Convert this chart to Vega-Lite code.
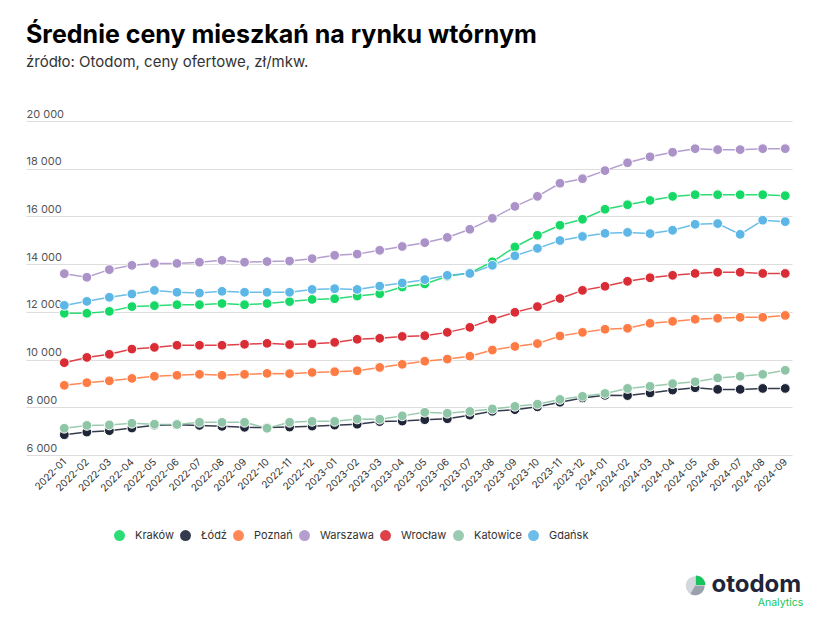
{
  "$schema": "https://vega.github.io/schema/vega-lite/v6.json",
  "autosize": {"type": "none"},
  "width": 766,
  "height": 334,
  "padding": {"left": 26, "top": 121, "right": 40, "bottom": 166},
  "background": "white",
  "config": {"view": {"stroke": null}, "font": "Inter"},
  "title": {
    "text": "Średnie ceny mieszkań na rynku wtórnym",
    "subtitle": "źródło: Otodom, ceny ofertowe, zł/mkw.",
    "anchor": "start",
    "frame": "group",
    "font": "Inter",
    "fontSize": 25,
    "fontWeight": 700,
    "color": "#000000",
    "subtitleFont": "Inter",
    "subtitleFontSize": 15,
    "subtitleColor": "#333333",
    "subtitlePadding": 7,
    "offset": 38
  },
  "data": {"values": [
    {"m":"2022-01","c":"Kraków","v":11940},{"m":"2022-02","c":"Kraków","v":11940},{"m":"2022-03","c":"Kraków","v":12020},{"m":"2022-04","c":"Kraków","v":12220},{"m":"2022-05","c":"Kraków","v":12260},{"m":"2022-06","c":"Kraków","v":12300},{"m":"2022-07","c":"Kraków","v":12300},{"m":"2022-08","c":"Kraków","v":12350},{"m":"2022-09","c":"Kraków","v":12300},{"m":"2022-10","c":"Kraków","v":12350},{"m":"2022-11","c":"Kraków","v":12430},{"m":"2022-12","c":"Kraków","v":12520},{"m":"2023-01","c":"Kraków","v":12550},{"m":"2023-02","c":"Kraków","v":12660},{"m":"2023-03","c":"Kraków","v":12760},{"m":"2023-04","c":"Kraków","v":13040},{"m":"2023-05","c":"Kraków","v":13170},{"m":"2023-06","c":"Kraków","v":13490},{"m":"2023-07","c":"Kraków","v":13630},{"m":"2023-08","c":"Kraków","v":14100},{"m":"2023-09","c":"Kraków","v":14720},{"m":"2023-10","c":"Kraków","v":15210},{"m":"2023-11","c":"Kraków","v":15630},{"m":"2023-12","c":"Kraków","v":15880},{"m":"2024-01","c":"Kraków","v":16300},{"m":"2024-02","c":"Kraków","v":16490},{"m":"2024-03","c":"Kraków","v":16670},{"m":"2024-04","c":"Kraków","v":16840},{"m":"2024-05","c":"Kraków","v":16910},{"m":"2024-06","c":"Kraków","v":16910},{"m":"2024-07","c":"Kraków","v":16910},{"m":"2024-08","c":"Kraków","v":16910},{"m":"2024-09","c":"Kraków","v":16870},
    {"m":"2022-01","c":"Łódź","v":6850},{"m":"2022-02","c":"Łódź","v":6960},{"m":"2022-03","c":"Łódź","v":7020},{"m":"2022-04","c":"Łódź","v":7130},{"m":"2022-05","c":"Łódź","v":7250},{"m":"2022-06","c":"Łódź","v":7270},{"m":"2022-07","c":"Łódź","v":7240},{"m":"2022-08","c":"Łódź","v":7200},{"m":"2022-09","c":"Łódź","v":7160},{"m":"2022-10","c":"Łódź","v":7150},{"m":"2022-11","c":"Łódź","v":7170},{"m":"2022-12","c":"Łódź","v":7210},{"m":"2023-01","c":"Łódź","v":7250},{"m":"2023-02","c":"Łódź","v":7290},{"m":"2023-03","c":"Łódź","v":7400},{"m":"2023-04","c":"Łódź","v":7420},{"m":"2023-05","c":"Łódź","v":7480},{"m":"2023-06","c":"Łódź","v":7520},{"m":"2023-07","c":"Łódź","v":7670},{"m":"2023-08","c":"Łódź","v":7830},{"m":"2023-09","c":"Łódź","v":7900},{"m":"2023-10","c":"Łódź","v":8020},{"m":"2023-11","c":"Łódź","v":8210},{"m":"2023-12","c":"Łódź","v":8390},{"m":"2024-01","c":"Łódź","v":8500},{"m":"2024-02","c":"Łódź","v":8490},{"m":"2024-03","c":"Łódź","v":8600},{"m":"2024-04","c":"Łódź","v":8720},{"m":"2024-05","c":"Łódź","v":8820},{"m":"2024-06","c":"Łódź","v":8750},{"m":"2024-07","c":"Łódź","v":8750},{"m":"2024-08","c":"Łódź","v":8790},{"m":"2024-09","c":"Łódź","v":8790},
    {"m":"2022-01","c":"Poznań","v":8920},{"m":"2022-02","c":"Poznań","v":9030},{"m":"2022-03","c":"Poznań","v":9110},{"m":"2022-04","c":"Poznań","v":9210},{"m":"2022-05","c":"Poznań","v":9300},{"m":"2022-06","c":"Poznań","v":9340},{"m":"2022-07","c":"Poznań","v":9380},{"m":"2022-08","c":"Poznań","v":9340},{"m":"2022-09","c":"Poznań","v":9380},{"m":"2022-10","c":"Poznań","v":9420},{"m":"2022-11","c":"Poznań","v":9410},{"m":"2022-12","c":"Poznań","v":9460},{"m":"2023-01","c":"Poznań","v":9490},{"m":"2023-02","c":"Poznań","v":9530},{"m":"2023-03","c":"Poznań","v":9670},{"m":"2023-04","c":"Poznań","v":9800},{"m":"2023-05","c":"Poznań","v":9930},{"m":"2023-06","c":"Poznań","v":10020},{"m":"2023-07","c":"Poznań","v":10140},{"m":"2023-08","c":"Poznań","v":10400},{"m":"2023-09","c":"Poznań","v":10550},{"m":"2023-10","c":"Poznań","v":10670},{"m":"2023-11","c":"Poznań","v":10990},{"m":"2023-12","c":"Poznań","v":11140},{"m":"2024-01","c":"Poznań","v":11270},{"m":"2024-02","c":"Poznań","v":11310},{"m":"2024-03","c":"Poznań","v":11520},{"m":"2024-04","c":"Poznań","v":11600},{"m":"2024-05","c":"Poznań","v":11690},{"m":"2024-06","c":"Poznań","v":11730},{"m":"2024-07","c":"Poznań","v":11770},{"m":"2024-08","c":"Poznań","v":11770},{"m":"2024-09","c":"Poznań","v":11850},
    {"m":"2022-01","c":"Warszawa","v":13600},{"m":"2022-02","c":"Warszawa","v":13450},{"m":"2022-03","c":"Warszawa","v":13770},{"m":"2022-04","c":"Warszawa","v":13950},{"m":"2022-05","c":"Warszawa","v":14030},{"m":"2022-06","c":"Warszawa","v":14030},{"m":"2022-07","c":"Warszawa","v":14080},{"m":"2022-08","c":"Warszawa","v":14160},{"m":"2022-09","c":"Warszawa","v":14080},{"m":"2022-10","c":"Warszawa","v":14110},{"m":"2022-11","c":"Warszawa","v":14130},{"m":"2022-12","c":"Warszawa","v":14230},{"m":"2023-01","c":"Warszawa","v":14370},{"m":"2023-02","c":"Warszawa","v":14420},{"m":"2023-03","c":"Warszawa","v":14580},{"m":"2023-04","c":"Warszawa","v":14740},{"m":"2023-05","c":"Warszawa","v":14900},{"m":"2023-06","c":"Warszawa","v":15120},{"m":"2023-07","c":"Warszawa","v":15460},{"m":"2023-08","c":"Warszawa","v":15920},{"m":"2023-09","c":"Warszawa","v":16420},{"m":"2023-10","c":"Warszawa","v":16840},{"m":"2023-11","c":"Warszawa","v":17390},{"m":"2023-12","c":"Warszawa","v":17580},{"m":"2024-01","c":"Warszawa","v":17920},{"m":"2024-02","c":"Warszawa","v":18250},{"m":"2024-03","c":"Warszawa","v":18500},{"m":"2024-04","c":"Warszawa","v":18690},{"m":"2024-05","c":"Warszawa","v":18840},{"m":"2024-06","c":"Warszawa","v":18800},{"m":"2024-07","c":"Warszawa","v":18800},{"m":"2024-08","c":"Warszawa","v":18840},{"m":"2024-09","c":"Warszawa","v":18840},
    {"m":"2022-01","c":"Wrocław","v":9870},{"m":"2022-02","c":"Wrocław","v":10090},{"m":"2022-03","c":"Wrocław","v":10220},{"m":"2022-04","c":"Wrocław","v":10440},{"m":"2022-05","c":"Wrocław","v":10510},{"m":"2022-06","c":"Wrocław","v":10600},{"m":"2022-07","c":"Wrocław","v":10600},{"m":"2022-08","c":"Wrocław","v":10600},{"m":"2022-09","c":"Wrocław","v":10640},{"m":"2022-10","c":"Wrocław","v":10680},{"m":"2022-11","c":"Wrocław","v":10630},{"m":"2022-12","c":"Wrocław","v":10660},{"m":"2023-01","c":"Wrocław","v":10720},{"m":"2023-02","c":"Wrocław","v":10850},{"m":"2023-03","c":"Wrocław","v":10890},{"m":"2023-04","c":"Wrocław","v":10970},{"m":"2023-05","c":"Wrocław","v":11000},{"m":"2023-06","c":"Wrocław","v":11140},{"m":"2023-07","c":"Wrocław","v":11350},{"m":"2023-08","c":"Wrocław","v":11690},{"m":"2023-09","c":"Wrocław","v":11980},{"m":"2023-10","c":"Wrocław","v":12220},{"m":"2023-11","c":"Wrocław","v":12560},{"m":"2023-12","c":"Wrocław","v":12900},{"m":"2024-01","c":"Wrocław","v":13070},{"m":"2024-02","c":"Wrocław","v":13280},{"m":"2024-03","c":"Wrocław","v":13430},{"m":"2024-04","c":"Wrocław","v":13530},{"m":"2024-05","c":"Wrocław","v":13610},{"m":"2024-06","c":"Wrocław","v":13660},{"m":"2024-07","c":"Wrocław","v":13660},{"m":"2024-08","c":"Wrocław","v":13610},{"m":"2024-09","c":"Wrocław","v":13610},
    {"m":"2022-01","c":"Katowice","v":7120},{"m":"2022-02","c":"Katowice","v":7240},{"m":"2022-03","c":"Katowice","v":7260},{"m":"2022-04","c":"Katowice","v":7330},{"m":"2022-05","c":"Katowice","v":7290},{"m":"2022-06","c":"Katowice","v":7280},{"m":"2022-07","c":"Katowice","v":7370},{"m":"2022-08","c":"Katowice","v":7370},{"m":"2022-09","c":"Katowice","v":7370},{"m":"2022-10","c":"Katowice","v":7120},{"m":"2022-11","c":"Katowice","v":7370},{"m":"2022-12","c":"Katowice","v":7410},{"m":"2023-01","c":"Katowice","v":7410},{"m":"2023-02","c":"Katowice","v":7510},{"m":"2023-03","c":"Katowice","v":7500},{"m":"2023-04","c":"Katowice","v":7640},{"m":"2023-05","c":"Katowice","v":7790},{"m":"2023-06","c":"Katowice","v":7750},{"m":"2023-07","c":"Katowice","v":7830},{"m":"2023-08","c":"Katowice","v":7930},{"m":"2023-09","c":"Katowice","v":8040},{"m":"2023-10","c":"Katowice","v":8130},{"m":"2023-11","c":"Katowice","v":8330},{"m":"2023-12","c":"Katowice","v":8460},{"m":"2024-01","c":"Katowice","v":8580},{"m":"2024-02","c":"Katowice","v":8790},{"m":"2024-03","c":"Katowice","v":8880},{"m":"2024-04","c":"Katowice","v":8990},{"m":"2024-05","c":"Katowice","v":9070},{"m":"2024-06","c":"Katowice","v":9230},{"m":"2024-07","c":"Katowice","v":9300},{"m":"2024-08","c":"Katowice","v":9380},{"m":"2024-09","c":"Katowice","v":9550},
    {"m":"2022-01","c":"Gdańsk","v":12270},{"m":"2022-02","c":"Gdańsk","v":12440},{"m":"2022-03","c":"Gdańsk","v":12610},{"m":"2022-04","c":"Gdańsk","v":12750},{"m":"2022-05","c":"Gdańsk","v":12900},{"m":"2022-06","c":"Gdańsk","v":12820},{"m":"2022-07","c":"Gdańsk","v":12790},{"m":"2022-08","c":"Gdańsk","v":12860},{"m":"2022-09","c":"Gdańsk","v":12820},{"m":"2022-10","c":"Gdańsk","v":12820},{"m":"2022-11","c":"Gdańsk","v":12820},{"m":"2022-12","c":"Gdańsk","v":12940},{"m":"2023-01","c":"Gdańsk","v":12970},{"m":"2023-02","c":"Gdańsk","v":12940},{"m":"2023-03","c":"Gdańsk","v":13080},{"m":"2023-04","c":"Gdańsk","v":13210},{"m":"2023-05","c":"Gdańsk","v":13350},{"m":"2023-06","c":"Gdańsk","v":13530},{"m":"2023-07","c":"Gdańsk","v":13610},{"m":"2023-08","c":"Gdańsk","v":13950},{"m":"2023-09","c":"Gdańsk","v":14350},{"m":"2023-10","c":"Gdańsk","v":14660},{"m":"2023-11","c":"Gdańsk","v":14990},{"m":"2023-12","c":"Gdańsk","v":15160},{"m":"2024-01","c":"Gdańsk","v":15290},{"m":"2024-02","c":"Gdańsk","v":15330},{"m":"2024-03","c":"Gdańsk","v":15280},{"m":"2024-04","c":"Gdańsk","v":15420},{"m":"2024-05","c":"Gdańsk","v":15670},{"m":"2024-06","c":"Gdańsk","v":15700},{"m":"2024-07","c":"Gdańsk","v":15250},{"m":"2024-08","c":"Gdańsk","v":15840},{"m":"2024-09","c":"Gdańsk","v":15780}
  ]},
  "layer": [
    {
      "encoding": {
        "x": {
          "field": "m", "type": "ordinal", "sort": null,
          "scale": {"type": "point", "padding": 1.476, "align": 0.85},
          "axis": {"title": null, "labelAngle": -45, "labelAlign": "right", "labelBaseline": "middle", "domain": false, "ticks": false, "tickSize": 0, "grid": false, "labelFont": "Inter", "labelFontSize": 10, "labelColor": "#333333", "labelPadding": 5}
        },
        "y": {
          "field": "v", "type": "quantitative",
          "scale": {"domain": [6000, 20000], "nice": false, "zero": false},
          "axis": {"title": null, "values": [6000, 8000, 10000, 12000, 14000, 16000, 18000, 20000], "labelExpr": "replace(format(datum.value, 'd'), /(\\d)(\\d{3})$/, '$1 $2')", "domain": false, "ticks": false, "tickSize": 0, "labelAlign": "left", "labelBaseline": "bottom", "labelPadding": 0, "labelOffset": -2, "labelFlush": false, "labelFont": "Inter", "labelFontSize": 11, "labelColor": "#555555", "gridColor": "#dddddd", "gridWidth": 1}
        },
        "color": {
          "field": "c", "type": "nominal",
          "scale": {"domain": ["Kraków", "Łódź", "Poznań", "Warszawa", "Wrocław", "Katowice", "Gdańsk"], "range": ["#15D865", "#1E2638", "#FF7B44", "#AB93C9", "#D92C35", "#8FC5A7", "#5CB6E6"]},
          "legend": {"title": null, "orient": "none", "legendX": 88, "legendY": 409, "direction": "horizontal", "padding": 0, "symbolType": "circle", "symbolSize": 120, "symbolStrokeWidth": 0, "labelFont": "Inter", "labelFontSize": 11, "labelColor": "#333333", "labelOffset": 10, "columnPadding": 6}
        }
      },
      "layer": [
        {"mark": {"type": "line", "strokeWidth": 1.5, "opacity": 0.9}},
        {"mark": {"type": "point", "filled": true, "opacity": 1, "size": 95, "stroke": "white", "strokeWidth": 1}}
      ]
    },
    {"data": {"values": [{}]},
     "mark": {"type": "point", "filled": true, "shape": "circle", "size": 361, "opacity": 1},
     "encoding": {"x": {"datum": "2024-05"}, "y": {"datum": 520}, "color": {"value": "#D3D8DE"}}},
    {"data": {"values": [{}]},
     "mark": {"type": "point", "filled": true, "shape": "M0,0 L1,0 A1,1 0 0,1 -0.5,0.866 Z", "size": 361, "opacity": 1},
     "encoding": {"x": {"datum": "2024-05"}, "y": {"datum": 520}, "color": {"value": "#9AA1AA"}}},
    {"data": {"values": [{}]},
     "mark": {"type": "point", "filled": true, "shape": "M0.08,-0.08 L0.08,-1.08 A1,1 0 0,1 1.08,-0.08 Z", "size": 361, "opacity": 1},
     "encoding": {"x": {"datum": "2024-05"}, "y": {"datum": 520}, "color": {"value": "#15C45A"}}},
    {"data": {"values": [{}]},
     "mark": {"type": "text", "text": "otodom", "font": "Inter", "fontSize": 24, "fontWeight": 700, "align": "right", "baseline": "alphabetic", "dx": 16},
     "encoding": {"x": {"datum": "2024-09"}, "y": {"datum": 270}, "color": {"value": "#1E2638"}}},
    {"data": {"values": [{}]},
     "mark": {"type": "text", "text": "Analytics", "font": "Inter", "fontSize": 10.5, "align": "right", "baseline": "alphabetic", "dx": 18},
     "encoding": {"x": {"datum": "2024-09"}, "y": {"datum": -340}, "color": {"value": "#15C45A"}}}
  ]
}
